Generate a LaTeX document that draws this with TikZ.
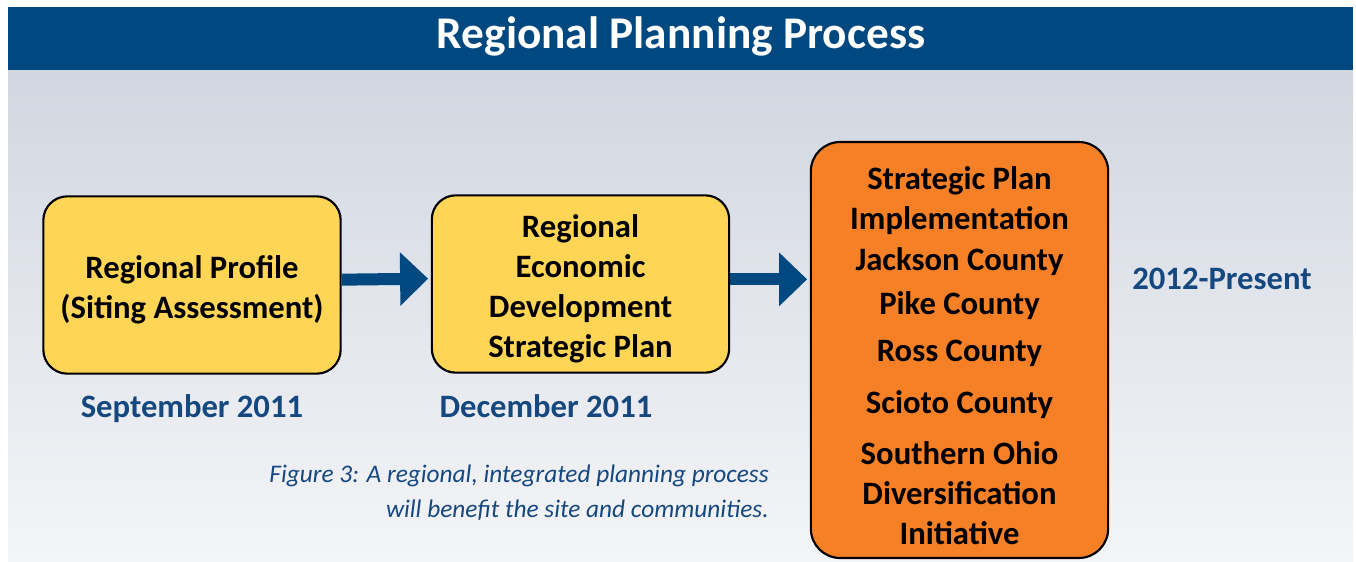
\documentclass[tikz,border=0pt]{standalone}
\usepackage{fontspec}
\setmainfont{Carlito}
\usetikzlibrary{arrows.meta,positioning,shapes}

\definecolor{hdrblue}{RGB}{0,72,128}
\definecolor{txtblue}{RGB}{22,72,128}
\definecolor{boxyellow}{RGB}{255,213,86}
\definecolor{boxorange}{RGB}{245,128,38}
\definecolor{bgtop}{RGB}{209,214,224}
\definecolor{bgbottom}{RGB}{244,245,248}

\begin{document}
\begin{tikzpicture}
[x=0.75pt,y=-0.75pt]
\tikzset{
	stage/.style = {draw, line width=1.6pt, rounded corners=18pt, fill=boxyellow,
		minimum width=223pt, minimum height=133pt},
	impl/.style = {stage, fill=boxorange, rounded corners=22pt, minimum height=312pt},
	inside/.style = {align=center, font=\bfseries\fontsize{24.5}{30}\selectfont},
	date/.style = {anchor=base, text=txtblue, font=\bfseries\fontsize{24.5}{28}\selectfont},
	flow/.style = {hdrblue, line width=9pt, -{Triangle[length=21pt,width=39pt]}}
}

\useasboundingbox (0,0) rectangle (1356,561);
\fill[top color=bgtop, bottom color=bgbottom] (8,70) rectangle (1353,561);
\fill[hdrblue] (8,7) rectangle (1353,70);

\node(title) at (681,36) [text=white, font=\bfseries\fontsize{34}{38}\selectfont] {Regional Planning Process};

\node(profile) at (192,285) [stage] {};
\node(plan) at (580.5,284) [stage] {};
\node(carry) at (959.5,350) [impl] {};

\node(profile text) at ([yshift=-3.75pt]profile.center) [inside] {Regional Profile\\(Siting Assessment)};
\node(plan text) at ([yshift=-3.75pt]plan.center) [inside] {Regional\\Economic\\Development\\Strategic Plan};
\node(carry text) at ([yshift=-4.5pt]carry.center) [inside] {Strategic Plan\\Implementation\\[0.75pt]Jackson County\\[3pt]Pike County\\[5.25pt]Ross County\\[9pt]Scioto County\\[8.25pt]Southern Ohio\\Diversification\\Initiative};

\node(sep) at (192,417) [date] {September 2011};
\node(dec) at (546,417) [date] {December 2011};
\node(now) at (1222,279) [date, anchor=center] {2012-Present};

\node(caption) at (769,493) [anchor=east, align=right, inner sep=0pt, text=txtblue, font=\itshape\fontsize{19}{26.5}\selectfont]
	{Figure 3: A regional, integrated planning process\\will benefit the site and communities.};

\draw[flow] ([yshift=4pt]profile.east) -- ([yshift=4pt,xshift=-2pt]plan.west);
\draw[flow] ([yshift=3.5pt]plan.east) -- ([yshift=3.5pt,xshift=-2pt]carry.west |- plan.east);

\end{tikzpicture}
\end{document}
